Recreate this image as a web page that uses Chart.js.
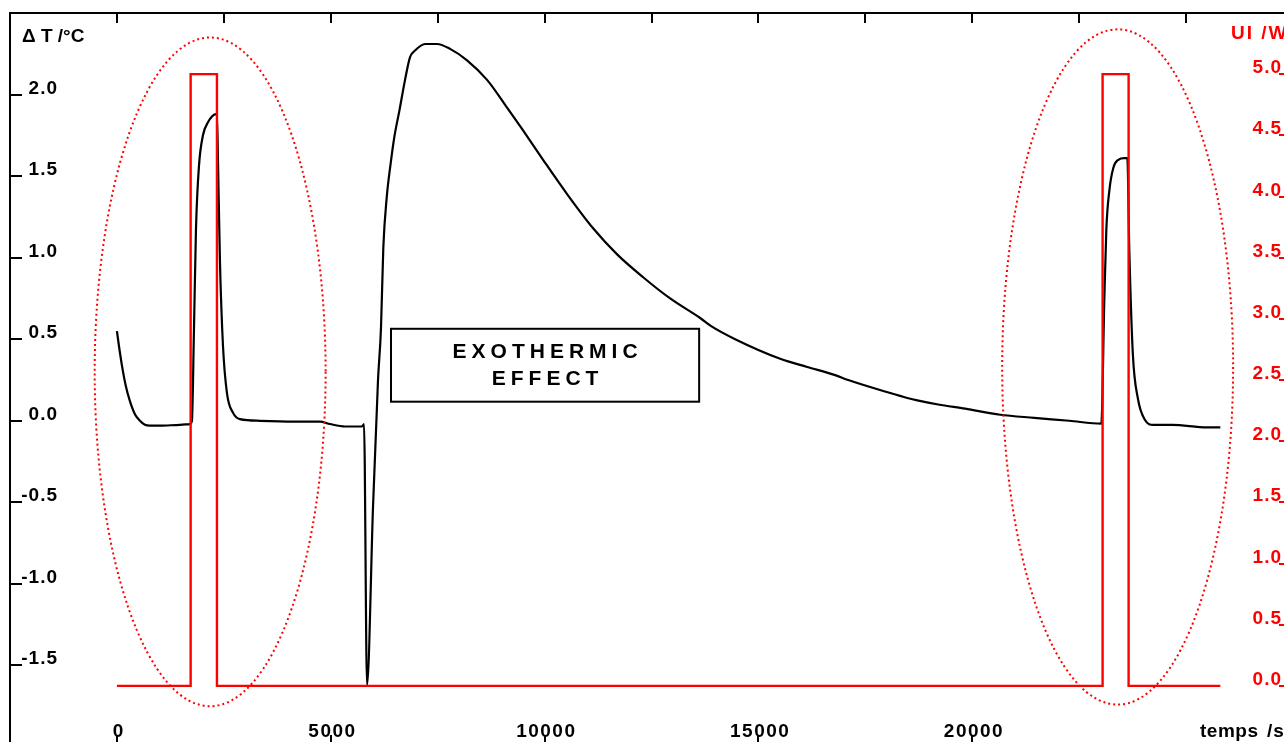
<!DOCTYPE html>
<html><head><meta charset="utf-8">
<script src="https://cdn.jsdelivr.net/npm/chart.js@4"></script>
<style>
html,body{margin:0;padding:0;background:#fff;overflow:hidden;width:1284px;height:742px}
#wrap{position:absolute;left:0;top:0;width:1300px;height:760px}
</style>
</head><body><div id="wrap"><canvas id="c"></canvas></div>
<script>
// ---- data ----
const timeS = [0,47,117,211,304,421,538,655,772,1006,1474,1708,
  1754,1801,1848,1918,2012,2129,2316,2339,2363,2409,2480,2573,2713,2877,3345,4281,4749,4982,5333,5731,5778,
  5848,5988,6105,6175,6229,6309,6402,6487,6604,6737,6854,6971,7205,7485,7790,8187,8655,9123,9497,9965,
  10526,11135,11696,12304,12936,13638,13895,14456,15509,16140,16795,17100,18082,18480,18714,19205,19836,
  20655,21450,22269,23018,23088,23135,23205,23298,23415,23556,23626,23673,23755,23874,24036,24234,24679,25486,25801];
const deltaT = [0.55,0.46,0.34,0.21,0.12,0.04,0.0,-0.025,-0.03,-0.03,-0.025,-0.02,
  0.0,0.55,1.17,1.56,1.75,1.83,1.88,1.88,1.60,0.98,0.46,0.17,0.05,0.01,0.0,-0.005,-0.005,-0.02,-0.035,-0.035,-0.02,
  -1.62,-0.53,0.25,0.57,1.06,1.37,1.58,1.74,1.90,2.09,2.23,2.27,2.31,2.31,2.28,2.21,2.09,1.92,1.78,1.60,
  1.39,1.18,1.02,0.88,0.75,0.63,0.58,0.50,0.38,0.33,0.28,0.25,0.17,0.14,0.125,0.10,0.074,
  0.037,0.018,0.0,-0.018,0.74,1.17,1.41,1.55,1.60,1.61,1.61,1.04,0.41,0.135,0.006,-0.025,-0.025,-0.04,-0.04];
const powerTime = [0,1724,1724,2339,2339,23048,23048,23656,23656,25801];
const powerW    = [0,0,5,5,0,0,5,5,0,0];

const xLabelValues = [0,5000,10000,15000,20000];
const xLabelTexts = ["0","5000","10000","15000","20000"];
const xTopTickValues = [0,2500,5000,7500,10000,12500,15000,17500,20000,22500,25000];
const leftTickValues = [2.0,1.5,1.0,0.5,0.0,-0.5,-1.0,-1.5];
const leftTickLabels = ["2.0","1.5","1.0","0.5","0.0","-0.5","-1.0","-1.5"];
const rightTickValues = [5.0,4.5,4.0,3.5,3.0,2.5,2.0,1.5,1.0,0.5,0.0];
const rightTickLabels = ["5.0","4.5","4.0","3.5","3.0","2.5","2.0","1.5","1.0","0.5","0.0"];
const leftTitle = "\u0394 T /\u00B0C";
const rightTitle = "UI /W";
const xTitleParts = ["temps","/s"];
const noteLines = ["EXOTHERMIC","EFFECT"];
// annotation geometry in data units
const noteBox = {x0:6409, x1:13614, y0:0.564, y1:0.117};
const ellipses = [{cx:2180, rx:2700, cy:0.30, ry:2.05},{cx:23400, rx:2700, cy:0.33, ry:2.07}];

const FONT = "bold 19px 'Liberation Sans', Arial, sans-serif";
function spacedWidth(ctx, text, sp){
  let w=0; for(const ch of text){ w+=ctx.measureText(ch).width; } return w + sp*(text.length-1);
}
function drawSpaced(ctx, text, x, y, sp, align){
  const w = spacedWidth(ctx,text,sp);
  let cx = align==='right' ? x-w : align==='center' ? x-w/2 : x;
  ctx.textAlign='left';
  for(const ch of text){ ctx.fillText(ch,cx,y); cx += ctx.measureText(ch).width + sp; }
}

const framePlugin = {
  id:'frame',
  afterDatasetsDraw(chart){
    const {ctx, chartArea:a, scales} = chart;
    const xs=scales.x, yl=scales.y, yr=scales.y1;
    ctx.save();
    // ellipses
    ctx.strokeStyle='#ff0000'; ctx.lineWidth=2; ctx.setLineDash([2,3]);
    for(const e of ellipses){
      const cx=xs.getPixelForValue(e.cx), cy=yl.getPixelForValue(e.cy);
      const rx=xs.getPixelForValue(e.cx+e.rx)-cx, ry=cy-yl.getPixelForValue(e.cy+e.ry);
      ctx.beginPath(); ctx.ellipse(cx,cy,rx,ry,0,0,Math.PI*2); ctx.stroke();
    }
    ctx.setLineDash([]);
    // frame
    ctx.strokeStyle='#000'; ctx.lineWidth=2;
    ctx.strokeRect(a.left,a.top,a.right-a.left,a.bottom-a.top);
    ctx.beginPath();
    for(const v of xTopTickValues){ const px=Math.round(xs.getPixelForValue(v)); ctx.moveTo(px,a.top); ctx.lineTo(px,a.top+10); }
    for(const v of xLabelValues){ const px=Math.round(xs.getPixelForValue(v)); ctx.moveTo(px,a.bottom); ctx.lineTo(px,a.bottom-12); }
    for(const v of leftTickValues){ const py=Math.round(yl.getPixelForValue(v)); ctx.moveTo(a.left,py); ctx.lineTo(a.left+12,py); }
    ctx.stroke();
    ctx.font=FONT; ctx.fillStyle='#000'; ctx.textBaseline='alphabetic';
    leftTickValues.forEach((v,i)=>{ const py=yl.getPixelForValue(v); drawSpaced(ctx,leftTickLabels[i],57,py-1,1,'right'); });
    xLabelValues.forEach((v,i)=>{ const px=xs.getPixelForValue(v); drawSpaced(ctx,xLabelTexts[i],px+1,737,1.5,'center'); });
    drawSpaced(ctx,xTitleParts[0],1200,737,0.5,'left');
    drawSpaced(ctx,xTitleParts[1],1267,737,1,'left');
    drawSpaced(ctx,leftTitle,22,42,0,'left');
    // right axis
    ctx.strokeStyle='#ff0000'; ctx.fillStyle='#ff0000'; ctx.lineWidth=2;
    ctx.beginPath();
    for(const v of rightTickValues){ const py=Math.round(yr.getPixelForValue(v)); ctx.moveTo(1279,py); ctx.lineTo(a.right,py); }
    ctx.stroke();
    rightTickValues.forEach((v,i)=>{ const py=yr.getPixelForValue(v); drawSpaced(ctx,rightTickLabels[i],1281,py-1,1,'right'); });
    drawSpaced(ctx,rightTitle,1231,39,2,'left');
    // annotation box
    const bx0=xs.getPixelForValue(noteBox.x0), bx1=xs.getPixelForValue(noteBox.x1);
    const by0=yl.getPixelForValue(noteBox.y0), by1=yl.getPixelForValue(noteBox.y1);
    ctx.fillStyle='#fff'; ctx.fillRect(bx0,by0,bx1-bx0,by1-by0);
    ctx.strokeStyle='#000'; ctx.lineWidth=2; ctx.strokeRect(bx0,by0,bx1-bx0,by1-by0);
    ctx.fillStyle='#000'; ctx.font="bold 21px 'Liberation Sans', Arial, sans-serif"; ctx.textBaseline='middle';
    const mid=(bx0+bx1)/2;
    drawSpaced(ctx,noteLines[0],mid,352,5,'center');
    drawSpaced(ctx,noteLines[1],mid,379,5,'center');
    ctx.restore();
  }
};

new Chart(document.getElementById('c'),{
  type:'line',
  data:{datasets:[
    {label:'UI /W', data:powerTime.map((t,i)=>({x:t,y:powerW[i]})), yAxisID:'y1',
     borderColor:'#ff0000', borderWidth:2.4, pointRadius:0, tension:0, fill:false},
    {label:'\u0394T', data:timeS.map((t,i)=>({x:t,y:deltaT[i]})), yAxisID:'y',
     borderColor:'#000', borderWidth:2.2, pointRadius:0, cubicInterpolationMode:'monotone', fill:false}
  ]},
  options:{
    responsive:true, maintainAspectRatio:false, animation:false, events:[],
    layout:{padding:{left:10,top:13,right:7,bottom:13}},
    plugins:{legend:{display:false}, tooltip:{enabled:false}},
    scales:{
      x:{type:'linear', min:-2500, max:27500, display:false},
      y:{type:'linear', min:-2.0, max:2.5, display:false},
      y1:{type:'linear', min:-0.5, max:5.5, display:false}
    }
  },
  plugins:[framePlugin]
});
</script>
</body></html>
